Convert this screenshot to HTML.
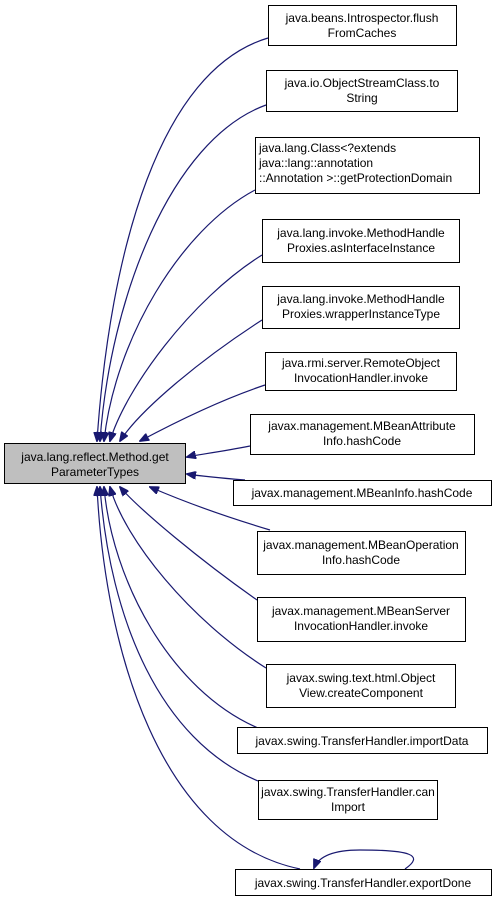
<!DOCTYPE html>
<html><head><style>
body{margin:0;background:#fff;}
svg{display:block;font-family:"Liberation Sans",Arial,sans-serif;font-size:12px;}
</style></head><body>
<svg width="496" height="901" viewBox="0 0 496 901">
<defs><marker id="a" markerWidth="10" markerHeight="8" refX="9" refY="4" orient="auto" markerUnits="userSpaceOnUse"><path d="M0,0 L10,4 L0,8 z" fill="#191970" stroke="#191970"/></marker></defs>
<g fill="none" stroke="#191970" stroke-width="1.2" marker-end="url(#a)">
<path d="M268,38 C160,70 110,250 97,441"/>
<path d="M266,105 C170,140 110,300 100,441"/>
<path d="M255,190 C180,230 115,340 104,441"/>
<path d="M262,255 C190,300 125,390 110,441"/>
<path d="M262,320 C200,360 140,410 120,441"/>
<path d="M265,385 C220,400 170,425 140,441"/>
<path d="M250,446 C220,452 195,455 187,457"/>
<path d="M245,480 C220,478 200,476 187,474"/>
<path d="M270,530 C220,515 180,500 150,487"/>
<path d="M257,600 C200,560 140,510 120,487"/>
<path d="M266,668 C190,620 125,540 110,487"/>
<path d="M258,728 C170,690 112,580 104,487"/>
<path d="M258,781 C160,740 110,620 100,487"/>
<path d="M300,869 C160,840 105,650 97,487"/>
<path d="M405,869 C425,855 410,850 360,850 C330,850 318,858 314,868"/>
</g>
<g fill="#fff" stroke="#000" stroke-width="1">
<rect x="4.5" y="443.5" width="181" height="40" fill="#bfbfbf"/>
<rect x="268.5" y="5.5" width="188" height="40"/>
<rect x="266.5" y="70.5" width="191" height="41"/>
<rect x="255.5" y="137.5" width="224" height="56"/>
<rect x="262.5" y="219.5" width="197" height="43"/>
<rect x="262.5" y="286.5" width="197" height="42"/>
<rect x="265.5" y="352.5" width="191" height="38"/>
<rect x="250.5" y="414.5" width="224" height="40"/>
<rect x="233.5" y="480.5" width="258" height="25"/>
<rect x="257.5" y="531.5" width="208" height="43"/>
<rect x="257.5" y="597.5" width="208" height="44"/>
<rect x="266.5" y="664.5" width="189" height="43"/>
<rect x="237.5" y="727.5" width="250" height="26"/>
<rect x="258.5" y="780.5" width="179" height="39"/>
<rect x="235.5" y="869.5" width="256" height="26"/>
</g>
<g fill="#000" text-anchor="middle">
<text x="95" y="461">java.lang.reflect.Method.get</text><text x="95" y="476">ParameterTypes</text>
<text x="362" y="22">java.beans.Introspector.flush</text><text x="362" y="37">FromCaches</text>
<text x="362" y="87">java.io.ObjectStreamClass.to</text><text x="362" y="102">String</text>
<text x="259" y="152" text-anchor="start">java.lang.Class&lt;?extends</text><text x="259" y="167" text-anchor="start"> java::lang::annotation</text><text x="259" y="182" text-anchor="start">::Annotation &gt;::getProtectionDomain</text>
<text x="361" y="237">java.lang.invoke.MethodHandle</text><text x="361" y="252">Proxies.asInterfaceInstance</text>
<text x="361" y="303">java.lang.invoke.MethodHandle</text><text x="361" y="318">Proxies.wrapperInstanceType</text>
<text x="361" y="367">java.rmi.server.RemoteObject</text><text x="361" y="382">InvocationHandler.invoke</text>
<text x="362" y="430">javax.management.MBeanAttribute</text><text x="362" y="445">Info.hashCode</text>
<text x="362" y="497">javax.management.MBeanInfo.hashCode</text>
<text x="361" y="549">javax.management.MBeanOperation</text><text x="361" y="564">Info.hashCode</text>
<text x="361" y="615">javax.management.MBeanServer</text><text x="361" y="630">InvocationHandler.invoke</text>
<text x="361" y="682">javax.swing.text.html.Object</text><text x="361" y="697">View.createComponent</text>
<text x="362" y="745">javax.swing.TransferHandler.importData</text>
<text x="348" y="796">javax.swing.TransferHandler.can</text><text x="348" y="811">Import</text>
<text x="363" y="887">javax.swing.TransferHandler.exportDone</text>
</g>
</svg>
</body></html>
